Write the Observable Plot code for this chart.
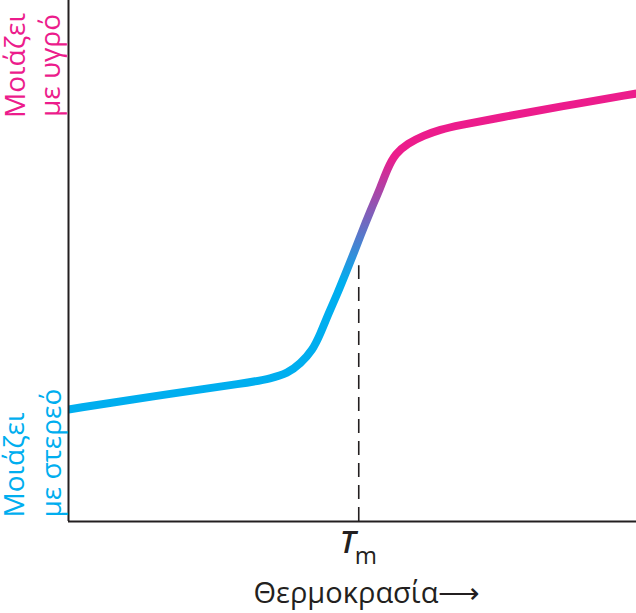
<!DOCTYPE html>
<html>
<head>
<meta charset="utf-8">
<script src="https://cdn.jsdelivr.net/npm/d3@7"></script>
<script src="https://cdn.jsdelivr.net/npm/@observablehq/plot@0.6"></script>
<style>
  html, body { margin: 0; padding: 0; background: #ffffff; }
  #chart svg { display: block; }
</style>
</head>
<body>
<div id="chart"></div>
<script>
// Data (arbitrary units)
const temperature = [0, 14.44, 32.04, 35.56, 38.56, 40.85, 42.96, 44.37, 45.77, 47.36, 48.77, 50.00, 51.41, 53.17, 54.93, 56.16, 57.57, 59.68, 62.50, 65.49, 68.49, 76.06, 86.62, 100];
const property    = [21.50, 23.99, 26.68, 27.45, 28.41, 30.33, 32.82, 36.08, 39.92, 43.76, 47.60, 50.86, 54.89, 59.69, 64.11, 67.75, 70.63, 72.55, 74.09, 75.24, 76.01, 77.54, 79.65, 82.15];
const meltingT = 51.1;
const dashTop = 49.1;
const gradientFrom = 46;   // property value where blue begins to fade
const gradientTo = 70;     // property value where it is fully pink
const liquidLabel = ["Μοιάζει", "με υγρό"];
const solidLabel = ["Μοιάζει", "με στερεό"];
const xLabel = "Θερμοκρασία⟶";
const tickSymbol = "T";
const tickSub = "m";

const blue = "#00aeef";
const pink = "#ec1c8c";
const ink = "#231f20";

const curve = temperature.map((t, i) => ({t, v: property[i]}));

const gradientDefs = (index, scales) => {
  const defs = d3.create("svg:defs");
  const g = defs.append("linearGradient")
    .attr("id", "meltGrad")
    .attr("gradientUnits", "userSpaceOnUse")
    .attr("x1", 0).attr("x2", 0)
    .attr("y1", scales.y(gradientFrom))
    .attr("y2", scales.y(gradientTo));
  g.append("stop").attr("offset", 0).attr("stop-color", blue);
  g.append("stop").attr("offset", 1).attr("stop-color", pink);
  return defs.node();
};

const chart = Plot.plot({
  width: 636,
  height: 613,
  marginLeft: 68,
  marginRight: 0,
  marginTop: 0,
  marginBottom: 92,
  style: {fontFamily: "'Open Sans', sans-serif", background: "#ffffff", overflow: "visible"},
  x: {domain: [0, 100], axis: null},
  y: {domain: [0, 100], axis: null},
  marks: [
    gradientDefs,
    Plot.ruleX([meltingT], {y1: 0, y2: dashTop, stroke: ink, strokeWidth: 1.6, strokeDasharray: "14,8"}),
    Plot.line(curve, {x: "t", y: "v", curve: "basis", stroke: "url(#meltGrad)", strokeWidth: 8, strokeLinecap: "butt", clip: true}),
    Plot.ruleX([0], {y1: 0, y2: 100, stroke: ink, strokeWidth: 2}),
    Plot.ruleY([0], {x1: 0, x2: 100, stroke: ink, strokeWidth: 2}),
    // Y labels (rotated)
    Plot.text([liquidLabel[0]], {text: d => d, frameAnchor: "top-left", dx: -44, dy: 65, rotate: -90, textAnchor: "middle", lineAnchor: "bottom", fill: pink, fontSize: 28}),
    Plot.text([liquidLabel[1]], {text: d => d, frameAnchor: "top-left", dx: -9, dy: 65, rotate: -90, textAnchor: "middle", lineAnchor: "bottom", fill: pink, fontSize: 28}),
    Plot.text([solidLabel[0]], {text: d => d, frameAnchor: "bottom-left", dx: -45, dy: -4, rotate: -90, textAnchor: "start", lineAnchor: "bottom", fill: blue, fontSize: 28}),
    Plot.text([solidLabel[1]], {text: d => d, frameAnchor: "bottom-left", dx: -8, dy: -4, rotate: -90, textAnchor: "start", lineAnchor: "bottom", fill: blue, fontSize: 28}),
    // Tm label
    Plot.text([meltingT], {x: d => d, text: () => tickSymbol, frameAnchor: "bottom", dx: -11, dy: 31, textAnchor: "middle", lineAnchor: "bottom", fill: ink, fontSize: 31, fontStyle: "italic", fontWeight: 600}),
    Plot.text([meltingT], {x: d => d, text: () => tickSub, frameAnchor: "bottom", dx: 7, dy: 42, textAnchor: "middle", lineAnchor: "bottom", fill: ink, fontSize: 24}),
    // X label
    Plot.text([xLabel], {text: d => d, frameAnchor: "bottom-left", dx: 185, dy: 81, textAnchor: "start", lineAnchor: "bottom", fill: ink, fontSize: 29})
  ]
});
document.getElementById("chart").appendChild(chart);
</script>
</body>
</html>
